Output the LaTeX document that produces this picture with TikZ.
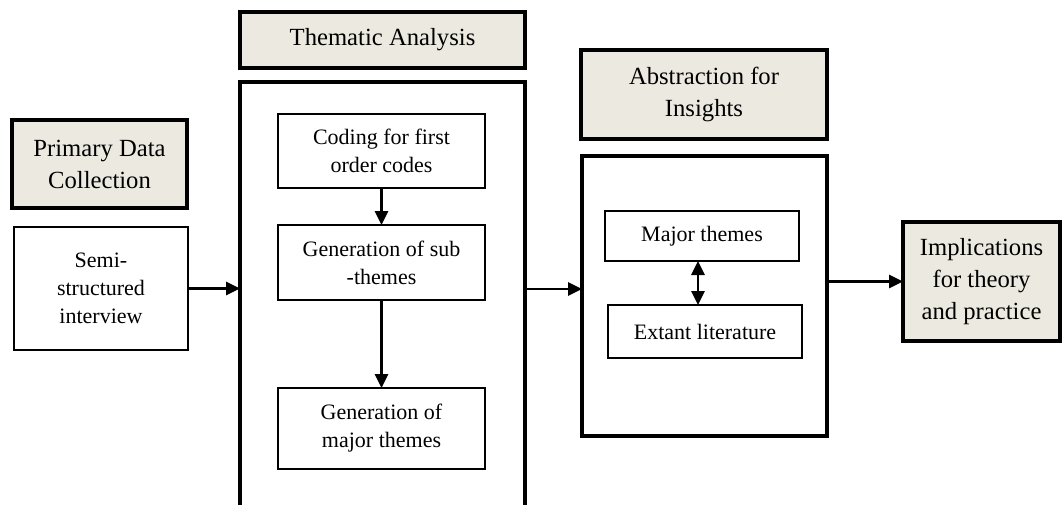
\documentclass[tikz,border=0pt]{standalone}
\usepackage{fontspec}
\setmainfont{Liberation Serif}
\usetikzlibrary{arrows.meta}
\definecolor{headfill}{RGB}{236,234,224}
\def\u{0.75pt}
\tikzset{
  headbox/.style={draw=black, line width=2.6pt, fill=headfill, align=center, inner sep=0pt, outer sep=0pt,
    font=\fontsize{18.5}{24}\selectfont},
  outerbox/.style={draw=black, line width=2.6pt, inner sep=0pt, outer sep=0pt},
  innerbox/.style={draw=black, line width=1.2pt, fill=white, align=center, inner sep=0pt, outer sep=0pt,
    font=\fontsize{16.5}{21}\selectfont},
  tip/.tip={Triangle[length=10.5pt,width=10pt]},
  conn/.style={line width=1.6pt, -tip},
  dconn/.style={line width=1.6pt, tip-tip},
}
\begin{document}
\begin{tikzpicture}[x=0.75pt,y=-0.75pt]
\useasboundingbox (0,0) rectangle (1063,504);
% left column
\node[headbox, minimum width={175*\u}, minimum height={88*\u}] (pdc) at (99.5,164) {Primary Data\\Collection};
\node[innerbox, minimum width={174*\u}, minimum height={123*\u}] (semi) at (101,288.5) {Semi-\\structured\\interview};
% thematic analysis
\node[headbox, minimum width={285*\u}, minimum height={56*\u}] (tah) at (382.5,40) {Thematic Analysis};
\node[outerbox, minimum width={285*\u}, minimum height={430*\u}] (tab) at (382.5,297) {};
\node[innerbox, minimum width={207*\u}, minimum height={74*\u}] (code) at (381.5,151) {Coding for first\\order codes};
\node[innerbox, minimum width={207*\u}, minimum height={75*\u}] (sub) at (381.5,262.5) {Generation of sub\\-themes};
\node[innerbox, minimum width={207*\u}, minimum height={81*\u}] (maj) at (381.5,428.5) {Generation of\\major themes};
% abstraction
\node[headbox, minimum width={246*\u}, minimum height={89*\u}] (aih) at (704,94.5) {Abstraction for\\Insights};
\node[outerbox, minimum width={245*\u}, minimum height={280*\u}] (aib) at (704.5,296) {};
\node[innerbox, minimum width={194*\u}, minimum height={50*\u}] (mt) at (702,236) {Major themes};
\node[innerbox, minimum width={194*\u}, minimum height={53*\u}] (el) at (705,331.5) {Extant literature};
% implications
\node[headbox, minimum width={157*\u}, minimum height={119*\u}] (imp) at (981.5,281.5) {Implications\\for theory\\and practice};
% connectors
\draw[conn] (semi.east) -- (semi.east -| tab.west);
\draw[conn] (code.south) -- (sub.north);
\draw[conn] (sub.south) -- (maj.north);
\draw[conn] (tab.east |- 0,289) -- (aib.west |- 0,289);
\draw[dconn] (mt.south -| 698,0) -- (el.north -| 698,0);
\draw[conn] (aib.east |- imp.west) -- (imp.west);
\end{tikzpicture}
\end{document}
